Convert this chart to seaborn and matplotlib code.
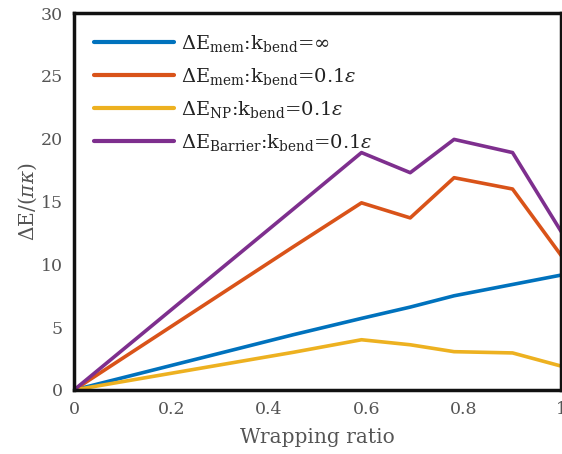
import numpy as np
import pandas as pd
import matplotlib
matplotlib.use("Agg")
import matplotlib.pyplot as plt
import seaborn as sns

# Wrapping ratio samples and energies (in units of pi*kappa)
wrapping = [0.0, 0.45, 0.59, 0.69, 0.78, 0.90, 1.0]
e_mem_rigid = [0.0, 4.4, 5.7, 6.6, 7.5, 8.4, 9.15]
e_mem_soft = [0.0, 11.4, 14.9, 13.7, 16.9, 16.0, 10.7]
e_np_soft = [0.0, 3.0, 4.0, 3.6, 3.05, 2.95, 1.9]
e_barrier_soft = [0.0, 14.4, 18.9, 17.3, 19.95, 18.9, 12.6]

labels = [
    r"$\Delta$E$_{\rm mem}$:k$_{\rm bend}$=$\infty$",
    r"$\Delta$E$_{\rm mem}$:k$_{\rm bend}$=0.1$\epsilon$",
    r"$\Delta$E$_{\rm NP}$:k$_{\rm bend}$=0.1$\epsilon$",
    r"$\Delta$E$_{\rm Barrier}$:k$_{\rm bend}$=0.1$\epsilon$",
]
colors = ["#0072BD", "#D95319", "#EDB120", "#7E2F8E"]
xticks = [0, 0.2, 0.4, 0.6, 0.8, 1]
xticklabels = ["0", "0.2", "0.4", "0.6", "0.8", "1"]
yticks = [0, 5, 10, 15, 20, 25, 30]

frames = []
for lab, vals in zip(labels, [e_mem_rigid, e_mem_soft, e_np_soft, e_barrier_soft]):
    frames.append(pd.DataFrame({"ratio": wrapping, "energy": vals, "series": lab}))
df = pd.concat(frames, ignore_index=True)

sns.set_theme(style="white")
plt.rcParams["font.family"] = ["DejaVu Serif"]
plt.rcParams["mathtext.fontset"] = "dejavuserif"

fig = plt.figure(figsize=(5.62, 4.54), dpi=100)
ax = fig.add_axes([0.1317, 0.141, 0.867, 0.830])

sns.lineplot(data=df, x="ratio", y="energy", hue="series", palette=colors,
             hue_order=labels, linewidth=2.6, ax=ax, sort=False)

ax.set_xlim(0, 1)
ax.set_ylim(0, 30)
ax.set_xticks(xticks)
ax.set_xticklabels(xticklabels)
ax.set_yticks(yticks)
ax.tick_params(axis="both", direction="in", length=4, width=2.0,
               labelsize=12.5, colors="black", labelcolor="#555555", pad=8)
for s in ax.spines.values():
    s.set_visible(True)
    s.set_color("#111111")
    s.set_linewidth(2.5)

ax.set_xlabel("Wrapping ratio", fontsize=14.5, color="#555555", labelpad=7)
ax.set_ylabel(r"$\Delta$E/($\pi\kappa$)", fontsize=14.5, color="#555555", labelpad=1)

leg = ax.legend(loc="upper left", frameon=False, fontsize=14,
                handlelength=4.1, handletextpad=0.35, labelspacing=0.62,
                bbox_to_anchor=(0.018, 0.979), borderaxespad=0.2)
for line in leg.get_lines():
    line.set_linewidth(3)
for t in leg.get_texts():
    t.set_color("#222222")

fig.savefig("out.png", dpi=100)
